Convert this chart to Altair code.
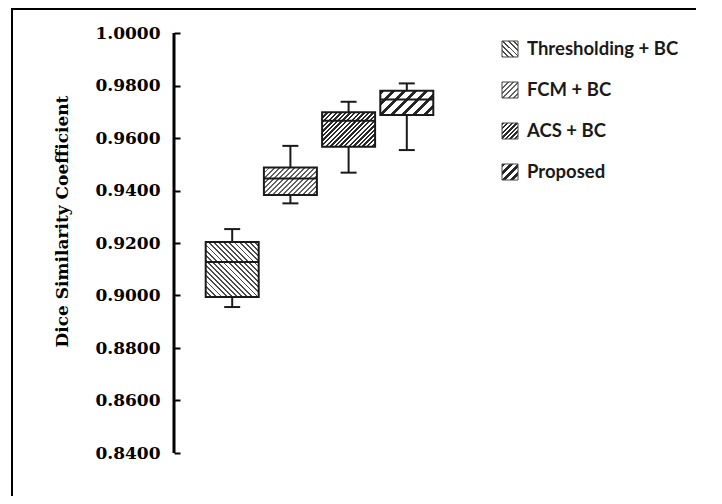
import math
import altair as alt
import pandas as pd

categories = ["Thresholding + BC", "FCM + BC", "ACS + BC", "Proposed"]
whisker_low = [0.8956, 0.9351, 0.9468, 0.9554]
q1 = [0.8994, 0.9383, 0.9567, 0.9688]
median = [0.9128, 0.9446, 0.9666, 0.9747]
q3 = [0.9204, 0.9488, 0.9698, 0.9780]
whisker_high = [0.9253, 0.9570, 0.9738, 0.9808]
y_ticks = [0.84, 0.86, 0.88, 0.90, 0.92, 0.94, 0.96, 0.98, 1.00]

# hatch styles: (direction, period px, line fraction, line colour)
hatch_styles = [("\\", 3.6, 0.36, "#4a4a4a"),
                ("/", 3.6, 0.33, "#606060"),
                ("/", 3.3, 0.52, "#2a2a2a"),
                ("/", 7.5, 0.40, "#262626")]

W, H = 291, 420
Y_DOMAIN = [0.84, 1.0]
BOX_W = 53
TICK = 6

df = pd.DataFrame({"cat": categories, "low": whisker_low, "q1": q1,
                   "median": median, "q3": q3, "high": whisker_high})


def hatch(w, h, period, frac, fg, bg, direction):
    s = (w + h) / (w * w + h * h)
    a, b = w * s, h * s
    n = max(1, round((w + h) / (math.sqrt(2) * period)))
    stops = []
    for i in range(n):
        t0, t1, t2 = i / n, (i + frac) / n, (i + 1) / n
        stops += [{"offset": round(t0, 5), "color": fg},
                  {"offset": round(t1, 5), "color": fg},
                  {"offset": round(t1, 5), "color": bg},
                  {"offset": round(t2, 5), "color": bg}]
    if direction == "/":
        x1, y1, x2, y2 = 0, 0, a, b
    else:
        x1, y1, x2, y2 = 0, 1, a, 1 - b
    return {"gradient": "linear", "x1": x1, "y1": y1,
            "x2": round(x2, 5), "y2": round(y2, 5), "stops": stops}


xenc = alt.X("cat:N", scale=alt.Scale(type="point", domain=categories, padding=1.02), axis=None)
yscale = alt.Scale(domain=Y_DOMAIN, zero=False, nice=False)

# axis shifted into the plot by the tick length so ticks point inward from the axis line
y_axis = alt.Axis(values=y_ticks, format=".4f", grid=False, offset=-TICK,
                  ticks=True, tickSize=TICK, tickWidth=2, tickColor="black",
                  domain=False,
                  labelFont="DejaVu Serif", labelFontWeight="bold", labelFontSize=17,
                  labelColor="black", labelPadding=14,
                  title="Dice Similarity  Coefficient", titleFont="DejaVu Serif",
                  titleFontWeight="bold", titleFontSize=17, titleColor="black",
                  titleAngle=-90, titleX=-118, titleY=188,
                  titleAlign="center", titleBaseline="middle")

whiskers = alt.Chart(df).mark_rule(color="#1a1a1a", strokeWidth=2).encode(
    x=xenc, y=alt.Y("low:Q", scale=yscale, axis=y_axis), y2="high:Q")

axis_line = alt.Chart(alt.Data(values=[{}])).mark_rule(color="black", strokeWidth=3).encode(
    x=alt.value(0), y=alt.datum(Y_DOMAIN[0], type="quantitative", scale=yscale, axis=None),
    y2=alt.datum(Y_DOMAIN[1]))

box_layers = []
for i, c in enumerate(categories):
    d, per, frac, fg = hatch_styles[i]
    h = (q3[i] - q1[i]) * H / (Y_DOMAIN[1] - Y_DOMAIN[0])
    g = hatch(BOX_W, h, per, frac, fg, "#ffffff", d)
    box_layers.append(
        alt.Chart(df).transform_filter(alt.datum.cat == c).mark_bar(
            size=BOX_W, fill=g, stroke="#1a1a1a", strokeWidth=2, opacity=1
        ).encode(x=xenc, y=alt.Y("q1:Q", scale=yscale, axis=None), y2="q3:Q"))

med = alt.Chart(df).mark_tick(orient="horizontal", size=BOX_W, thickness=2, color="#1a1a1a", opacity=1).encode(
    x=xenc, y=alt.Y("median:Q", scale=yscale, axis=None))
cap_lo = alt.Chart(df).mark_tick(orient="horizontal", size=16, thickness=2, color="#1a1a1a", opacity=1).encode(
    x=xenc, y=alt.Y("low:Q", scale=yscale, axis=None))
cap_hi = alt.Chart(df).mark_tick(orient="horizontal", size=16, thickness=2, color="#1a1a1a", opacity=1).encode(
    x=xenc, y=alt.Y("high:Q", scale=yscale, axis=None))

main = alt.layer(whiskers, axis_line, *box_layers, med, cap_lo, cap_hi).resolve_axis(y="independent")

# legend
lyscale = alt.Scale(type="point", domain=categories, range=[16, 139], padding=0)
leg_layers = []
for i, c in enumerate(categories):
    d, per, frac, fg = hatch_styles[i]
    g = hatch(16, 16, per if per < 5 else 5.5, frac, fg, "#ffffff", d)
    leg_layers.append(
        alt.Chart(df).transform_filter(alt.datum.cat == c).mark_point(
            shape="square", size=256, filled=True, fill=g, stroke="#444444",
            strokeWidth=1, opacity=1
        ).encode(x=alt.value(336), y=alt.Y("cat:N", scale=lyscale, axis=None)))
leg_text = alt.Chart(df).mark_text(align="left", baseline="middle", font="Lato",
                                    fontWeight="bold", fontSize=18.5, color="#1a1a1a").encode(
    x=alt.value(353), y=alt.Y("cat:N", scale=lyscale, axis=None), text="cat:N")

frame = alt.Chart(alt.Data(values=[{}]))
border_top = frame.mark_rule(color="black", strokeWidth=2).encode(
    x=alt.value(-163), x2=alt.value(522), y=alt.value(-24), y2=alt.value(-24))
border_left = frame.mark_rule(color="black", strokeWidth=2).encode(
    x=alt.value(-162), x2=alt.value(-162), y=alt.value(-25), y2=alt.value(470))

legend = alt.layer(*leg_layers, leg_text)

chart = alt.layer(main, legend, border_top, border_left).resolve_scale(
    y="independent", x="independent"
).properties(
    width=W, height=H, background="white",
    autosize=alt.AutoSizeParams(type="none"),
    padding={"left": 166, "top": 25, "right": 249, "bottom": 43},
).configure_view(stroke=None)

chart.save("out.html", embed_options={"renderer": "svg", "actions": False})
